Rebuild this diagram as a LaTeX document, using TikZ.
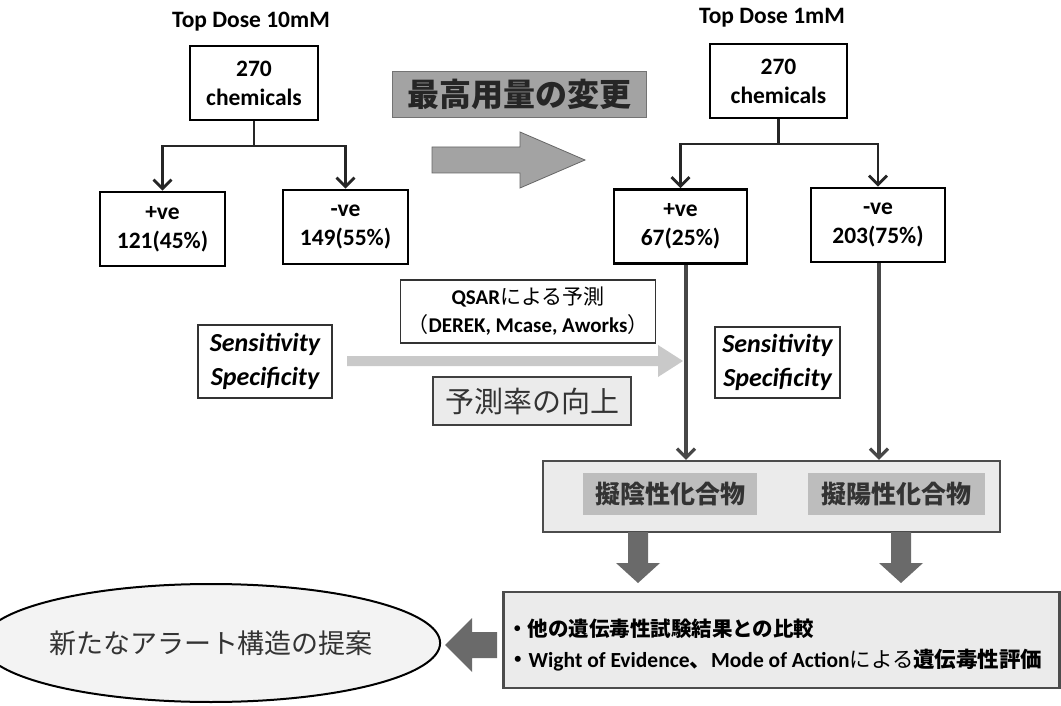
\documentclass[tikz,border=0pt]{standalone}
\usepackage{fontspec}
\setmainfont{Carlito}
\newfontfamily\jp{Noto Sans CJK JP}
\usetikzlibrary{arrows.meta,shapes.geometric,positioning}
\definecolor{darkarrow}{HTML}{6A6A6A}
\definecolor{lightfill}{HTML}{EBEBEB}
\definecolor{midfill}{HTML}{BDBDBD}
\definecolor{labelfill}{HTML}{A3A3A3}
\definecolor{lightarrow}{HTML}{C9C9C9}
\tikzset{
  box/.style={draw=black,line width=2.8pt,minimum width=#1,minimum height=74pt,align=center,inner sep=0pt,font=\fontsize{23.5}{29}\selectfont\bfseries},
  thinbox/.style={draw=black!80,line width=1.1pt,align=center,inner sep=0pt,fill=white},
  branch/.style={line width=2.8pt,draw=black!85},
  tip/.style={-{Straight Barb[length=9pt,width=18pt]}},
  vline/.style={line width=3.2pt,draw=black!72,-{Straight Barb[length=9pt,width=18pt]}},
  title/.style={font=\fontsize{23.5}{27}\selectfont\bfseries},
  fat/.style={fill=darkarrow,draw=none},
}
\begin{document}
\begin{tikzpicture}[x=1pt,y=-1pt]
\useasboundingbox (0,0) rectangle (1061,706);
\fill[white] (0,0) rectangle (1061,706);

% left tree
\node[title] (t1) at (251,22) {Top Dose 10mM};
\node[box=128pt] (c1) at (254,83) {270\\chemicals};
\node[box=125pt] (p1) at (162.5,229) {+ve\\121(45\%)};
\node[box=125pt] (n1) at (345.5,227) {-ve\\149(55\%)};
\coordinate (j1) at (254,146);
\draw[branch] (c1.south) -- (j1);
\draw[branch,tip] (j1) -| (p1.north);
\draw[branch,tip] (j1) -| (n1.north);

% change label and big arrow
\node[fill=labelfill,draw=black!55,line width=0.6pt,minimum width=254pt,minimum height=46pt,inner sep=0pt,text=black!85,font=\jp\bfseries\fontsize{32}{36}\selectfont] (chg) at (519,94) {最高用量の変更};
\draw[fill=labelfill,draw=black!60,line width=0.8pt] (432,147) -- (520,147) -- (520,132) -- (585,160) -- (520,188) -- (520,173) -- (432,173) -- cycle;

% right tree
\node[title] (t2) at (772,18) {Top Dose 1mM};
\node[box=137pt] (c2) at (778.5,81) {270\\chemicals};
\node[box=133pt] (p2) at (680.5,226.5) {+ve\\67(25\%)};
\node[box=134pt] (n2) at (878,225) {-ve\\203(75\%)};
\coordinate (j2) at (778.5,144);
\draw[branch] (c2.south) -- (j2);
\draw[branch,tip] (j2) -| (p2.north);
\draw[branch,tip] (j2) -| (n2.north);

% middle section
\node[thinbox,minimum width=255pt,minimum height=63pt,font=\fontsize{21}{28}\selectfont\bfseries] (qsar) at (528,311.5) {QSAR{\jp\mdseries による予測}\\{\jp\mdseries （}DEREK, Mcase, Aworks{\jp\mdseries ）}};
\node[thinbox,minimum width=134pt,minimum height=73pt,font=\fontsize{26}{34}\selectfont\bfseries\itshape] (s1) at (265,361.5) {Sensitivity\\Specificity};
\node[thinbox,minimum width=125pt,minimum height=71pt,font=\fontsize{26}{34}\selectfont\bfseries\itshape] (s2) at (777.5,362.5) {Sensitivity\\Specificity};
\node[draw=black!75,line width=1.1pt,fill=lightfill,minimum width=198pt,minimum height=48pt,inner sep=0pt,text=black!80,font=\jp\fontsize{29}{33}\selectfont] (yos) at (532,401) {予測率の向上};
\fill[lightarrow] (347,356) -- (658,356) -- (658,345) -- (683,361) -- (658,377) -- (658,366) -- (347,366) -- cycle;

% big box with compound labels
\node[draw=black!70,line width=2.4pt,fill=lightfill,minimum width=457pt,minimum height=71pt,inner sep=0pt] (bb) at (771.5,496.5) {};
\node[fill=midfill,minimum width=174pt,minimum height=42pt,inner sep=0pt,font=\jp\bfseries\fontsize{25}{29}\selectfont,text=black!80] (g1) at (670,494) {擬陰性化合物};
\node[fill=midfill,minimum width=177pt,minimum height=42pt,inner sep=0pt,font=\jp\bfseries\fontsize{25}{29}\selectfont,text=black!80] (g2) at (896.5,494) {擬陽性化合物};
\draw[vline] (p2.south -| 686,0) -- (bb.north -| 686,0);
\draw[vline] (n2.south -| 879,0) -- (bb.north -| 879,0);

% bottom box
\node[draw=black!70,line width=2.4pt,fill=lightfill,minimum width=556pt,minimum height=96pt,inner sep=0pt] (bt) at (781.5,640) {};
\node[anchor=west,inner sep=0pt,font=\jp\bfseries\fontsize{20.5}{24}\selectfont] (l1) at (507,629) {・他の遺伝毒性試験結果との比較};
\node[anchor=west,inner sep=0pt,font=\fontsize{21.5}{24}\selectfont\bfseries] (l2) at (507,660) {{\jp ・}Wight of Evidence{\jp 、}Mode of Action{\jp\mdseries による}{\jp 遺伝毒性評価}};

% fat down arrows
\path[fat] (628,532) -- (648,532) -- (648,563) -- (660,563) -- (638,583) -- (616,563) -- (628,563) -- cycle;
\path[fat] (891,532) -- (911,532) -- (911,563) -- (923,563) -- (901,583) -- (879,563) -- (891,563) -- cycle;

% left arrow
\path[fat] (497,632) -- (472,632) -- (472,618) -- (445,645) -- (472,672) -- (472,658) -- (497,658) -- cycle;

% ellipse
\node[ellipse,draw=black,line width=2pt,fill=lightfill!60,minimum width=412pt,minimum height=118pt,inner sep=0pt,font=\jp\fontsize{27}{31}\selectfont,text=black!80] (el) at (211,643) {新たなアラート構造の提案};
\end{tikzpicture}
\end{document}
